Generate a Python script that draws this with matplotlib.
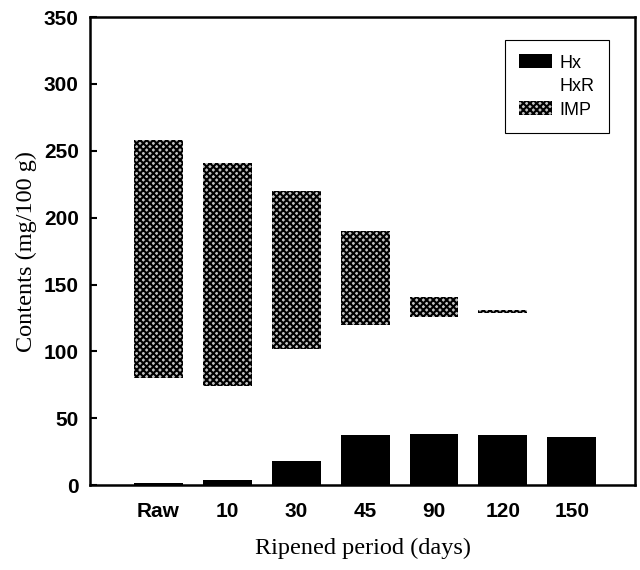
"""
Hx / HxR / IMP contents during ripening (stacked bars)
"""

import numpy as np
import matplotlib
matplotlib.use('Agg')
import matplotlib.pyplot as plt
from matplotlib.ticker import MultipleLocator

## Data (mg/100 g)
periods= ['Raw','10','30','45','90','120','150']
hx=  [1.5, 3.5, 18.0, 37.5, 38.5, 37.5, 36.0]   ## black
hxr= [78.5, 70.5, 84.0, 82.5, 87.5, 91.5, 0.0]  ## white (no fill)
imp= [178.0, 167.0, 118.0, 70.0, 15.0, 2.0, 0.0]  ## cross-hatched

def main():
    plt.rcParams['hatch.linewidth']= 1.5

    fig= plt.figure()
    fig.set_size_inches(6.4,5.7)
    ax= fig.add_axes([0.1406,0.149,0.852,0.821])

    xloc= np.arange(len(periods))
    wd= 0.71
    b_hx= np.array(hx)
    b_hxr= b_hx+np.array(hxr)

    ax.bar(xloc,hx,width=wd,color='black',linewidth=0,label='Hx')
    ax.bar(xloc,hxr,width=wd,bottom=b_hx,color='white',linewidth=0,label='HxR')
    ax.bar(xloc,imp,width=wd,bottom=b_hxr,color='#c0c0c0',edgecolor='black',
           linewidth=0,hatch='xxxxx',label='IMP')

    ax.set_xlim(-0.99,6.92)
    ax.set_ylim(0,350)
    ax.yaxis.set_major_locator(MultipleLocator(50))
    ax.set_xticks(xloc)
    ax.set_xticklabels(periods)

    tick_font= dict(family=['Liberation Sans','DejaVu Sans'],weight='bold',size=15)
    for lab in ax.get_xticklabels()+ax.get_yticklabels():
        lab.set_fontfamily(tick_font['family'])
        lab.set_fontweight(tick_font['weight'])
        lab.set_fontsize(tick_font['size'])

    ax.tick_params(axis='y',direction='in',length=5,width=1.5,pad=8)
    ax.tick_params(axis='x',length=0,pad=12)
    for sp in ax.spines.values():
        sp.set_linewidth(1.8)

    lab_font= dict(family=['Liberation Serif','DejaVu Serif'],size=17.5)
    ax.set_ylabel('Contents (mg/100 g)',labelpad=5,**lab_font)
    ax.set_xlabel('Ripened period (days)',labelpad=12,**lab_font)

    leg= ax.legend(loc='upper right',bbox_to_anchor=(0.951,0.951),borderaxespad=0,
                   fancybox=False,framealpha=1,edgecolor='black',
                   prop=dict(family=['Liberation Sans','DejaVu Sans'],size=13),
                   handlelength=1.8,handleheight=0.8,handletextpad=0.4,
                   labelspacing=0.35,borderpad=0.8)
    leg.get_frame().set_linewidth(0.8)

    plt.savefig('out.png',dpi=100)
    return

if __name__=='__main__':
    main()
